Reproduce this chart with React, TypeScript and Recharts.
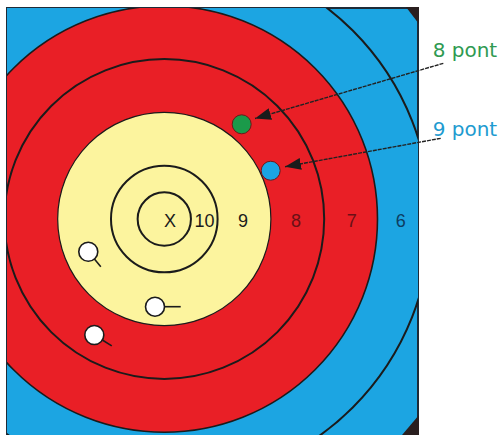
import {
  ScatterChart, Scatter, XAxis, YAxis, ZAxis, CartesianGrid,
  ReferenceArea, ReferenceDot,
} from 'recharts'

// target units: 1 = one ring width (radius of the 10 ring), origin = centre of the X
const X_DOMAIN: [number, number] = [-2.951, 4.760]
const Y_DOMAIN: [number, number] = [-4.146, 3.959]

const RING_SCORES = ['6', '7', '8', '9', '10', 'X']
const RING_RADII = [5, 4, 3, 2, 1, 0.5]

const LABEL_TEXT = ['X', '10', '9', '8', '7', '6']
const LABEL_X = [0.107, 0.754, 1.477, 2.471, 3.516, 4.435]
const LABEL_Y = [-0.144, -0.144, -0.144, -0.144, -0.144, -0.144]

// coloured hits that the notes point at
const HIT_NAME = ['8 pont', '9 pont']
const HIT_X = [1.452, 1.996]
const HIT_Y = [1.777, 0.906]

// the other arrows (white nocks with shaft)
const ARROW_X = [-1.426, -0.174, -1.313]
const ARROW_Y = [-0.614, -1.645, -2.176]
const ARROW_DEG = [-50, 0, -32]
const ARROW_LEN = [0.366, 0.482, 0.386]

const NOTE_X = [5.035, 5.035]
const NOTE_Y = [3.045, 1.557]
const POINTER_FROM = [[5.235, 2.921], [5.186, 1.514]]
const POINTER_TO = [[1.702, 1.886], [2.265, 0.981]]

const W = 501
const H = 440
const MARGIN = { top: 8, right: 83, bottom: 0, left: 7 }
const PLOT_W = W - MARGIN.left - MARGIN.right
const PLOT_H = H - MARGIN.top - MARGIN.bottom
const UNIT = PLOT_W / (X_DOMAIN[1] - X_DOMAIN[0])

const BLUE = '#1ca5e2'
const RED = '#e91f26'
const YELLOW = '#fcf49e'
const INK = '#1b1b1b'

const RING_FILL: Record<string, string> = { '6': BLUE, '7': RED, '8': RED, '9': YELLOW, '10': YELLOW, X: YELLOW }
const RING_STROKE: Record<string, number> = { '6': 2, '7': 1.6, '8': 2, '9': 1.2, '10': 2, X: 2 }
const LABEL_FILL: Record<string, string> = { X: INK, '10': INK, '9': INK, '8': '#6b1016', '7': '#6b1016', '6': '#0d3d63' }
const HIT_FILL = ['#1b9a4a', '#1ba4e4']
const NOTE_FILL = ['#2f9a52', '#1e9bd0']

const rings = RING_SCORES.map((score, i) => ({ x: 0, y: 0, z: RING_RADII[i] * RING_RADII[i], score }))
const labels = LABEL_TEXT.map((text, i) => ({ x: LABEL_X[i], y: LABEL_Y[i], text }))
const hits = HIT_NAME.map((name, i) => ({ x: HIT_X[i], y: HIT_Y[i], name, i }))
const arrows = ARROW_X.map((x, i) => ({ x, y: ARROW_Y[i], deg: ARROW_DEG[i], len: ARROW_LEN[i] }))
const pointers = POINTER_TO.map((t, i) => ({ x: t[0], y: t[1], fx: POINTER_FROM[i][0], fy: POINTER_FROM[i][1] }))

const font = '"Liberation Sans", Arial, sans-serif'

function RingShape(p: any) {
  const size = Number.isFinite(p.size) ? p.size : Math.PI * (p.width / 2) ** 2
  const r = Math.sqrt(Math.max(size, 0) / Math.PI)
  const s = p.payload.score
  return (
    <circle cx={p.cx} cy={p.cy} r={r} fill={RING_FILL[s]} stroke={INK} strokeWidth={RING_STROKE[s]}
      clipPath="url(#faceClip)" />
  )
}

function LabelShape(p: any) {
  const t = p.payload.text
  return (
    <text x={p.cx} y={p.cy} textAnchor="middle" fontSize={18} fontFamily={font} fill={LABEL_FILL[t]}>
      {t}
    </text>
  )
}

function HitShape(p: any) {
  return <circle cx={p.cx} cy={p.cy} r={9.5} fill={HIT_FILL[p.payload.i]} stroke="#6a1a1a" strokeWidth={1} />
}

function ArrowShape(p: any) {
  const a = (p.payload.deg * Math.PI) / 180
  const dx = Math.cos(a)
  const dy = -Math.sin(a)
  const r = 9.5
  const len = p.payload.len * UNIT
  return (
    <g>
      <line x1={p.cx + dx * r} y1={p.cy + dy * r} x2={p.cx + dx * len} y2={p.cy + dy * len} stroke={INK} strokeWidth={1.6} />
      <circle cx={p.cx} cy={p.cy} r={r} fill="#fff" stroke={INK} strokeWidth={1.6} />
    </g>
  )
}

// drawn from the hit (tip) back to the note, same units as the axes
function PointerShape(p: any) {
  const { x, y, fx, fy } = p.payload
  return (
    <line x1={p.cx + (fx - x) * UNIT} y1={p.cy - (fy - y) * UNIT} x2={p.cx} y2={p.cy}
      stroke="#222" strokeWidth={1.4} strokeDasharray="4 1" markerEnd="url(#tipHead)" />
  )
}

export default function App() {
  return (
    <div style={{ position: 'absolute', left: 0, top: 0, width: W, height: 435, overflow: 'hidden', background: '#fff' }}>
      <ScatterChart width={W} height={H} margin={MARGIN}>
        <defs>
          <clipPath id="faceClip">
            <rect x={MARGIN.left} y={MARGIN.top} width={PLOT_W} height={PLOT_H} />
          </clipPath>
          <marker id="tipHead" viewBox="0 0 16 12" refX="16" refY="6" markerWidth="16" markerHeight="12"
            markerUnits="userSpaceOnUse" orient="auto">
            <path d="M0,0 L16,6 L0,12 Z" fill={INK} />
          </marker>
        </defs>
        <CartesianGrid fill={BLUE} horizontal={false} vertical={false} />
        <XAxis type="number" dataKey="x" domain={X_DOMAIN} hide />
        <YAxis type="number" dataKey="y" domain={Y_DOMAIN} hide />
        <ZAxis type="number" dataKey="z" domain={[0, 25]} range={[0, Math.PI * (UNIT * 5) ** 2]} />

        <Scatter data={rings} shape={RingShape} isAnimationActive={false} />
        <Scatter data={labels} shape={LabelShape} isAnimationActive={false} />
        <Scatter data={arrows} shape={ArrowShape} isAnimationActive={false} />
        <Scatter data={hits} shape={HitShape} isAnimationActive={false} />
        <Scatter data={pointers} shape={PointerShape} isAnimationActive={false} />

        {/* target frame and its corner tabs */}
        <ReferenceArea x1={X_DOMAIN[0]} x2={X_DOMAIN[1]} y1={Y_DOMAIN[0]} y2={Y_DOMAIN[1]}
          fill="none" fillOpacity={0} stroke="#1e2b38" strokeWidth={2} ifOverflow="visible" />
        <ReferenceDot x={X_DOMAIN[1]} y={Y_DOMAIN[1]} r={0} ifOverflow="visible"
          shape={(p: any) => <path d={`M${p.cx - 12},${p.cy - 1} L${p.cx + 1},${p.cy - 1} L${p.cx + 1},${p.cy + 16} Z`} fill="#2a1f1f" />} />
        <ReferenceDot x={X_DOMAIN[1]} y={-4.053} r={0} ifOverflow="visible"
          shape={(p: any) => <path d={`M${p.cx - 16},${p.cy} L${p.cx + 1},${p.cy - 20} L${p.cx + 1},${p.cy} Z`} fill="#2a1f1f" />} />

        {HIT_NAME.map((name, i) => (
          <ReferenceDot key={name} x={NOTE_X[i]} y={NOTE_Y[i]} r={0} ifOverflow="visible"
            shape={(p: any) => (
              <text x={p.cx} y={p.cy} fontSize={20} fontFamily='"DejaVu Sans", sans-serif' fill={NOTE_FILL[i]}>
                {name}
              </text>
            )} />
        ))}
      </ScatterChart>
    </div>
  )
}
